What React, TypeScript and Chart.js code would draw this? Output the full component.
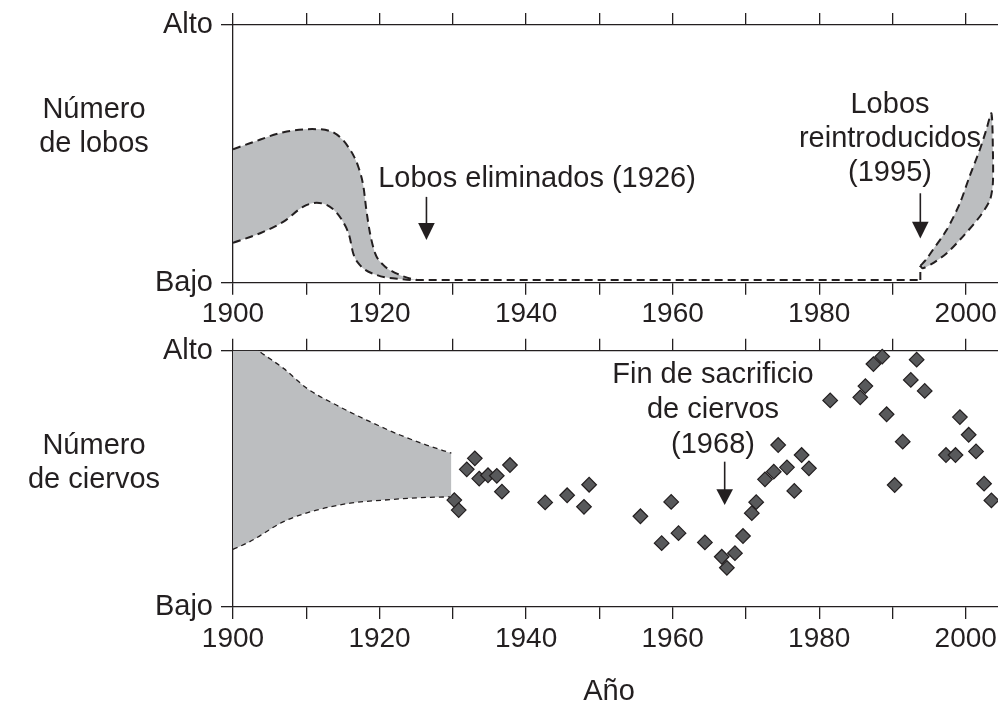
import React, { useEffect, useRef } from 'react';
import { Chart, registerables } from 'chart.js';

Chart.register(...registerables);

// ---------- data ----------
const X_MIN = 1900;
const X_MAX = 2004.4;
const tickYears = [1900, 1910, 1920, 1930, 1940, 1950, 1960, 1970, 1980, 1990, 2000];
const labeledYears = [1900, 1920, 1940, 1960, 1980, 2000];
const levelTicks = [0, 100];
const levelLabels = ['Bajo', 'Alto'];

// Wolves: uncertainty band before elimination
const wolfUpperYears = [1900, 1902.3, 1906.9, 1910.8, 1913.2, 1915, 1916, 1916.4, 1917.1, 1917.8, 1918.2, 1918.7, 1919.4, 1920.5, 1922.3, 1924.6, 1926];
const wolfUpperValues = [51.8, 54.1, 58.4, 59.6, 58.9, 55.4, 51.5, 49.6, 45, 37.3, 28.2, 19.2, 11.4, 6.9, 3.6, 1.3, 1.0];
const wolfLowerYears = [1900, 1903.7, 1906.9, 1909.6, 1911.4, 1913.5, 1915, 1915.9, 1916.4, 1917.3, 1919.6, 1923.2, 1925, 1993.8];
const wolfLowerValues = [15.5, 19.2, 23.7, 29.5, 31.0, 28.9, 23.7, 17.9, 11.4, 6.9, 3.0, 1.3, 1.0, 1.0];
const wolfLinkYears = [1993.8, 1993.8];
const wolfLinkValues = [1.0, 6.5];
// Wolves: reintroduced band (closed outline: upper edge, right edge, lower edge)
const wolfReintroYears = [1993.8, 1994.6, 1995.5, 1997.4, 1999.2, 2000.5, 2001.9, 2002.8, 2003.5, 2003.7, 2003.7, 2003.3, 2001.9, 1999.6, 1997.4, 1995.3, 1994.1, 1993.8];
const wolfReintroValues = [6.5, 9.0, 12.7, 20.5, 30.8, 41.1, 51.5, 59.3, 65.7, 52, 38.6, 32.1, 25.6, 17.9, 11.4, 7.2, 5.6, 6.5];

// Deer: uncertainty band before counts
const deerUpperYears = [1900, 1903.5, 1906.9, 1910.1, 1914.1, 1918.7, 1922.8, 1926.4, 1929.8];
const deerUpperValues = [108.5, 100, 93.1, 85.3, 78.8, 72.3, 67.1, 63.2, 60.0];
const deerLowerYears = [1900, 1902.3, 1906.9, 1911.4, 1916, 1920.5, 1925.1, 1929.8];
const deerLowerValues = [22.5, 25.5, 33.3, 37.8, 40.5, 41.7, 42.6, 43.0];

// Deer: counted points
const deerYears = [
  1933.0, 1931.9, 1933.6, 1934.8, 1936.0, 1937.8, 1936.7, 1930.2, 1930.8, 1942.6, 1945.6, 1948.6, 1947.9,
  1955.6, 1959.8, 1958.5, 1960.8, 1964.4, 1966.7, 1967.4, 1968.5, 1969.6, 1970.8, 1971.4, 1972.6, 1973.8,
  1975.6, 1974.4, 1977.6, 1978.6, 1976.6,
  1988.6, 1987.4, 1993.3, 1986.3, 1985.6, 1981.5, 1992.5, 1994.4, 1989.2, 1991.4, 1990.3, 1999.2, 2000.4,
  2001.4, 1997.3, 1998.6, 2002.5, 2003.5,
];
const deerValues = [
  58.0, 53.7, 50.1, 51.4, 51.2, 55.4, 45.0, 41.7, 37.8, 40.8, 43.6, 47.7, 39.1,
  35.4, 41.0, 24.9, 28.8, 25.2, 19.6, 15.3, 21.0, 27.7, 36.6, 40.9, 49.8, 52.8,
  54.5, 63.2, 59.3, 54.1, 45.3,
  97.7, 94.8, 96.5, 86.2, 81.8, 80.6, 88.6, 84.3, 75.2, 64.5, 47.6, 74.1, 67.2,
  60.7, 59.3, 59.3, 48.1, 41.6,
];

// Annotation arrows: [line top value, head top value, tip value]
const wolfArrowYears = [1926.4, 1993.8];
const wolfArrowLevels = [[33.3, 23.2, 16.6], [34.7, 23.7, 17.2]];
const deerArrowYears = [1967.1];
const deerArrowLevels = [[56.7, 45.9, 39.8]];

const wolfTitle = ['Número', 'de lobos'];
const deerTitle = ['Número', 'de ciervos'];
const wolfGoneNote = ['Lobos eliminados (1926)'];
const wolfBackNote = ['Lobos', 'reintroducidos', '(1995)'];
const deerCullNote = ['Fin de sacrificio', 'de ciervos', '(1968)'];
const xTitle = 'Año';

// ---------- styles ----------
const FONT = "'Liberation Sans', Arial, Helvetica, sans-serif";
const INK = '#231f20';
const GRAY = '#bcbec0';
const MARKER = '#58595b';
const PAGE_W = 998;
const PAGE_H = 709;
const TOP_CANVAS_H = 335;
const BOTTOM_CANVAS_TOP = 335;
const BOTTOM_CANVAS_H = PAGE_H - BOTTOM_CANVAS_TOP;

const pts = (xs: number[], ys: number[]) => xs.map((x, i) => ({ x, y: ys[i] }));

type Note = { lines: string[]; x: number; y: number; lh: number };

function makeScales(topH: number, bottomH: number) {
  const grid = { drawOnChartArea: false, drawTicks: true, tickLength: 12, color: INK, lineWidth: 1.3 };
  const border = { display: true, color: INK, width: 1.3 };
  const setTicks = (axis: any) => {
    axis.ticks = tickYears.map((v) => ({ value: v }));
  };
  return {
    x: {
      type: 'linear',
      position: 'bottom',
      min: X_MIN,
      max: X_MAX,
      afterBuildTicks: setTicks,
      afterFit: (s: any) => {
        s.height = bottomH;
        s.paddingLeft = 0;
        s.paddingRight = 0;
      },
      grid,
      border,
      ticks: {
        autoSkip: false,
        maxRotation: 0,
        padding: 3,
        color: INK,
        font: { family: FONT, size: 28 },
        callback: (v: any) => (labeledYears.includes(Number(v)) ? String(v) : ''),
      },
    },
    xTop: {
      type: 'linear',
      position: 'top',
      min: X_MIN,
      max: X_MAX,
      afterBuildTicks: setTicks,
      afterFit: (s: any) => {
        s.height = topH;
        s.paddingLeft = 0;
        s.paddingRight = 0;
      },
      grid,
      border,
      ticks: { display: false },
    },
    y: {
      type: 'linear',
      position: 'left',
      min: 0,
      max: 100,
      afterBuildTicks: (axis: any) => {
        axis.ticks = levelTicks.map((v) => ({ value: v }));
      },
      afterFit: (s: any) => {
        s.width = 233;
        s.paddingTop = 0;
        s.paddingBottom = 0;
      },
      grid,
      border,
      ticks: {
        padding: 8,
        color: INK,
        font: { family: FONT, size: 29 },
        callback: (v: any) => levelLabels[levelTicks.indexOf(Number(v))] ?? '',
      },
    },
  };
}

function notesPlugin(id: string, notes: Note[], arrowYears: number[], arrowLevels: number[][]) {
  return {
    id,
    afterDraw(chart: any) {
      const ctx = chart.ctx as CanvasRenderingContext2D;
      const xs = chart.scales.x;
      const ys = chart.scales.y;
      ctx.save();
      ctx.fillStyle = INK;
      ctx.strokeStyle = INK;
      ctx.textAlign = 'center';
      ctx.textBaseline = 'alphabetic';
      ctx.font = `29px ${FONT}`;
      notes.forEach((n) => {
        n.lines.forEach((line, i) => ctx.fillText(line, n.x, n.y + i * n.lh));
      });
      arrowYears.forEach((yr, i) => {
        const [topV, headV, tipV] = arrowLevels[i];
        const x = xs.getPixelForValue(yr);
        const y0 = ys.getPixelForValue(topV);
        const yh = ys.getPixelForValue(headV);
        const yt = ys.getPixelForValue(tipV);
        ctx.lineWidth = 1.6;
        ctx.beginPath();
        ctx.moveTo(x, y0);
        ctx.lineTo(x, yh + 1);
        ctx.stroke();
        ctx.beginPath();
        ctx.moveTo(x - 8.3, yh);
        ctx.lineTo(x + 8.3, yh);
        ctx.lineTo(x, yt);
        ctx.closePath();
        ctx.fill();
      });
      ctx.restore();
    },
  };
}

const baseOptions = (topH: number, bottomH: number) => ({
  responsive: false,
  animation: false as const,
  events: [] as any[],
  layout: { padding: 0, autoPadding: false },
  plugins: { legend: { display: false }, tooltip: { enabled: false } },
  scales: makeScales(topH, bottomH) as any,
});

export default function App() {
  const topRef = useRef<HTMLCanvasElement>(null);
  const bottomRef = useRef<HTMLCanvasElement>(null);

  useEffect(() => {
    Chart.defaults.font.family = FONT;
    const wolfDash = { borderColor: INK, borderWidth: 2, borderDash: [8, 5], pointRadius: 0 };
    const deerDash = { borderColor: INK, borderWidth: 1.3, borderDash: [5, 4], pointRadius: 0 };

    const topChart = new Chart(topRef.current!, {
      type: 'line',
      data: {
        datasets: [
          {
            ...wolfDash,
            data: pts(wolfLowerYears, wolfLowerValues),
            cubicInterpolationMode: 'monotone',
            fill: false,
            xAxisID: 'x',
            yAxisID: 'y',
          },
          {
            ...wolfDash,
            data: pts(wolfUpperYears, wolfUpperValues),
            cubicInterpolationMode: 'monotone',
            fill: '-1',
            backgroundColor: GRAY,
            xAxisID: 'x',
            yAxisID: 'y',
          },
          {
            ...wolfDash,
            data: pts(wolfLinkYears, wolfLinkValues),
            tension: 0,
            fill: false,
            xAxisID: 'x',
            yAxisID: 'y',
          },
          {
            ...wolfDash,
            data: pts(wolfReintroYears, wolfReintroValues),
            tension: 0.25,
            fill: 'shape',
            backgroundColor: GRAY,
            xAxisID: 'x',
            yAxisID: 'y',
          },
        ] as any,
      },
      options: baseOptions(25, TOP_CANVAS_H - 282.7) as any,
      plugins: [
        notesPlugin(
          'wolfNotes',
          [
            { lines: wolfTitle, x: 94, y: 118, lh: 34 },
            { lines: wolfGoneNote, x: 537, y: 187, lh: 34 },
            { lines: wolfBackNote, x: 890, y: 113, lh: 34 },
          ],
          wolfArrowYears,
          wolfArrowLevels,
        ),
      ],
    });

    const bt = BOTTOM_CANVAS_TOP;
    const bottomChart = new Chart(bottomRef.current!, {
      type: 'line',
      data: {
        datasets: [
          {
            ...deerDash,
            data: pts(deerLowerYears, deerLowerValues),
            cubicInterpolationMode: 'monotone',
            fill: false,
            xAxisID: 'x',
            yAxisID: 'y',
          },
          {
            ...deerDash,
            data: pts(deerUpperYears, deerUpperValues),
            cubicInterpolationMode: 'monotone',
            fill: '-1',
            backgroundColor: GRAY,
            xAxisID: 'x',
            yAxisID: 'y',
          },
          {
            type: 'scatter',
            data: pts(deerYears, deerValues),
            showLine: false,
            pointStyle: 'rectRot',
            pointRadius: 7.3,
            pointBackgroundColor: MARKER,
            pointBorderColor: INK,
            pointBorderWidth: 1.2,
            clip: false,
            xAxisID: 'x',
            yAxisID: 'y',
          },
        ] as any,
      },
      options: baseOptions(350.7 - bt, BOTTOM_CANVAS_H - (607 - bt)) as any,
      plugins: [
        notesPlugin(
          'deerNotes',
          [
            { lines: deerTitle, x: 94, y: 454 - bt, lh: 34 },
            { lines: deerCullNote, x: 713, y: 383 - bt, lh: 35 },
            { lines: [xTitle], x: 609, y: 700 - bt, lh: 34 },
          ],
          deerArrowYears,
          deerArrowLevels,
        ),
      ],
    });

    return () => {
      topChart.destroy();
      bottomChart.destroy();
    };
  }, []);

  return (
    <div style={{ position: 'absolute', left: 0, top: 0, width: PAGE_W, height: PAGE_H, background: '#fff' }}>
      <canvas
        ref={topRef}
        width={PAGE_W}
        height={TOP_CANVAS_H}
        style={{ position: 'absolute', left: 0, top: 0, display: 'block' }}
      />
      <canvas
        ref={bottomRef}
        width={PAGE_W}
        height={BOTTOM_CANVAS_H}
        style={{ position: 'absolute', left: 0, top: BOTTOM_CANVAS_TOP, display: 'block' }}
      />
    </div>
  );
}
